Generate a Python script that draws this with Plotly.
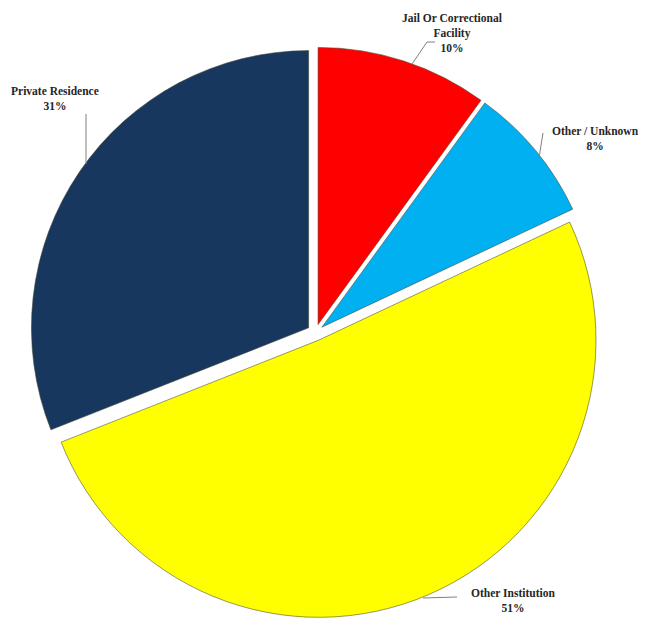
import plotly.graph_objects as go

# Place of death breakdown
labels = ["Jail Or Correctional Facility", "Other / Unknown", "Other Institution", "Private Residence"]
values = [10, 8, 51, 31]
colors = ["#FF0000", "#00B0F0", "#FFFF00", "#17375E"]

# Label text shown beside each slice
label_text = ["Jail Or Correctional<br>Facility", "Other / Unknown", "Other Institution", "Private Residence"]

W, H = 671, 618


def px(x, y):
    """Convert pixel position (from top-left) into paper coordinates."""
    return x / W, 1 - y / H


fig = go.Figure(
    go.Pie(
        labels=labels,
        values=values,
        sort=False,
        direction="clockwise",
        rotation=0,
        pull=[0.03, 0.03, 0.03, 0.03],
        marker=dict(colors=colors, line=dict(color="rgba(70,70,50,0.55)", width=1)),
        textinfo="none",
        hoverinfo="label+percent",
        showlegend=False,
        domain=dict(x=[0.0447, 0.8957], y=[0.0, 0.924]),
    )
)

total = sum(values)
pcts = [round(100 * v / total) for v in values]

# Label anchor positions (pixel centre of each text block)
label_pos = [(452, 33), (595, 138), (513, 600), (55, 98)]
for name, pct, (lx, ly) in zip(label_text, pcts, label_pos):
    x, y = px(lx, ly)
    fig.add_annotation(
        x=x, y=y, xref="paper", yref="paper",
        text=f"<b>{name}<br>{pct}%</b>",
        showarrow=False,
        font=dict(family="Liberation Serif, Times New Roman, serif", size=11.5, color="#262626"),
        align="center",
        xanchor="center", yanchor="middle",
    )

# Leader lines from labels to slices
leaders = [
    [(435, 42), (427, 42), (412, 64)],
    [(543, 133), (539, 158)],
    [(457, 597), (423, 598)],
    [(86, 114), (86, 164)],
]
for pts in leaders:
    path = ""
    for i, (lx, ly) in enumerate(pts):
        x, y = px(lx, ly)
        path += ("M" if i == 0 else "L") + f"{x},{y} "
    fig.add_shape(type="path", path=path.strip(), xref="paper", yref="paper",
                  line=dict(color="#808080", width=1))

fig.update_layout(
    width=W, height=H,
    margin=dict(l=0, r=0, t=0, b=0),
    paper_bgcolor="white",
    plot_bgcolor="white",
)

fig.write_html("out.html")
